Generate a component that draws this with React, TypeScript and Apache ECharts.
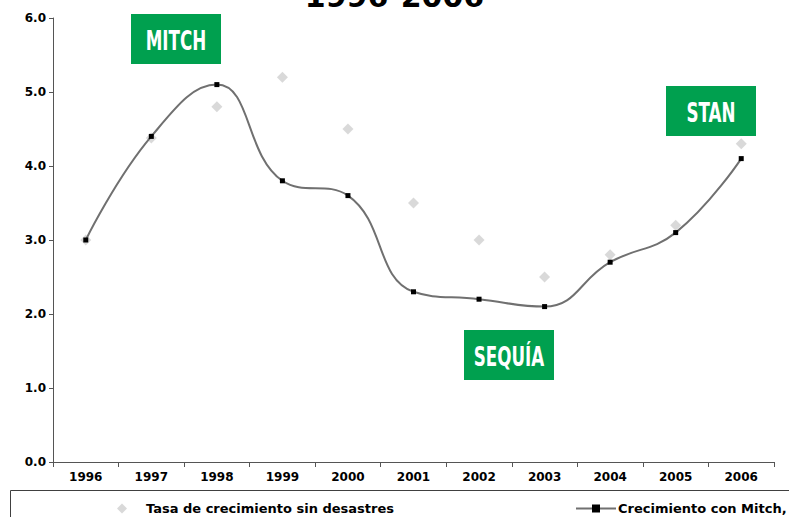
import React, { useEffect, useRef } from "react";
import * as echarts from "echarts";

const years = ["1996", "1997", "1998", "1999", "2000", "2001", "2002", "2003", "2004", "2005", "2006"];
const sinDesastres = [3.0, 4.38, 4.8, 5.2, 4.5, 3.5, 3.0, 2.5, 2.8, 3.2, 4.3];
const conMitch = [3.0, 4.4, 5.1, 3.8, 3.6, 2.3, 2.2, 2.1, 2.7, 3.1, 4.1];
const seriesNames = ["Tasa de crecimiento sin desastres", "Crecimiento con Mitch, sequía y Stan"];
const annotations = [
  { label: "MITCH", x: 131, y: 14 },
  { label: "SEQUÍA", x: 464, y: 330 },
  { label: "STAN", x: 666, y: 86 },
];

const GREEN = "#00a04f";
const SANS = "'DejaVu Sans', Verdana, sans-serif";

export default function App() {
  const ref = useRef<HTMLDivElement>(null);
  useEffect(() => {
    if (!ref.current) return;
    const chart = echarts.init(ref.current, null, { renderer: "svg" });
    const graphics: any[] = [
      {
        type: "text",
        left: "center",
        top: -19,
        style: { text: "1996-2006", font: `bold 30px ${SANS}`, fill: "#000" },
      },
      {
        type: "rect",
        shape: { x: 10.5, y: 490.5, width: 800, height: 40 },
        style: { fill: "none", stroke: "#404040", lineWidth: 1 },
      },
    ];
    annotations.forEach((a) => {
      graphics.push({
        type: "group",
        x: a.x,
        y: a.y,
        children: [
          { type: "rect", shape: { x: 0, y: 0, width: 90, height: 50 }, style: { fill: GREEN } },
          {
            type: "text",
            x: 45,
            y: 26,
            scaleX: 0.62,
            style: {
              text: a.label,
              fill: "#fff",
              font: `bold 27px ${SANS}`,
              textAlign: "center",
              textVerticalAlign: "middle",
            },
          },
        ],
      });
    });
    chart.setOption({
      animation: false,
      grid: { left: 53, right: 15, top: 18, bottom: 55 },
      legend: [
        {
          data: [{ name: seriesNames[0], icon: "diamond" }],
          left: 112,
          top: 497,
          itemWidth: 10,
          itemHeight: 10,
          textStyle: { fontFamily: SANS, fontSize: 13, fontWeight: "bold", color: "#000", padding: [0, 0, 0, 14] },
        },
        {
          data: [seriesNames[1]],
          left: 570,
          top: 497,
          itemWidth: 40,
          itemHeight: 10,
          textStyle: { fontFamily: SANS, fontSize: 13, fontWeight: "bold", color: "#000", padding: [0, 0, 0, -3] },
        },
      ],
      xAxis: {
        type: "category",
        data: years,
        boundaryGap: true,
        axisLine: { lineStyle: { color: "#555", width: 1 } },
        axisTick: { show: true, length: 5, alignWithLabel: false, lineStyle: { color: "#555" } },
        axisLabel: { fontFamily: SANS, fontWeight: "bold", fontSize: 12, color: "#000", margin: 9 },
        splitLine: { show: false },
      },
      yAxis: {
        type: "value",
        min: 0,
        max: 6,
        interval: 1,
        axisLine: { show: true, lineStyle: { color: "#555", width: 1 } },
        axisTick: { show: true, length: 4, lineStyle: { color: "#555" } },
        axisLabel: {
          fontFamily: SANS,
          fontWeight: "bold",
          fontSize: 12,
          color: "#000",
          margin: 7,
          formatter: (v: number) => v.toFixed(1),
        },
        splitLine: { show: false },
      },
      series: [
        {
          name: seriesNames[0],
          type: "scatter",
          data: sinDesastres,
          symbol: "diamond",
          symbolSize: 11,
          itemStyle: { color: "#cfcfcf" },
          z: 2,
        },
        {
          name: seriesNames[1],
          type: "line",
          data: conMitch,
          smooth: 0.45,
          symbol: "rect",
          symbolSize: 5,
          itemStyle: { color: "#000" },
          lineStyle: { color: "#707070", width: 2 },
          z: 3,
        },
      ],
      graphic: graphics,
    });
    return () => chart.dispose();
  }, []);
  return <div ref={ref} style={{ width: 789, height: 517, position: "absolute", left: 0, top: 0 }} />;
}
